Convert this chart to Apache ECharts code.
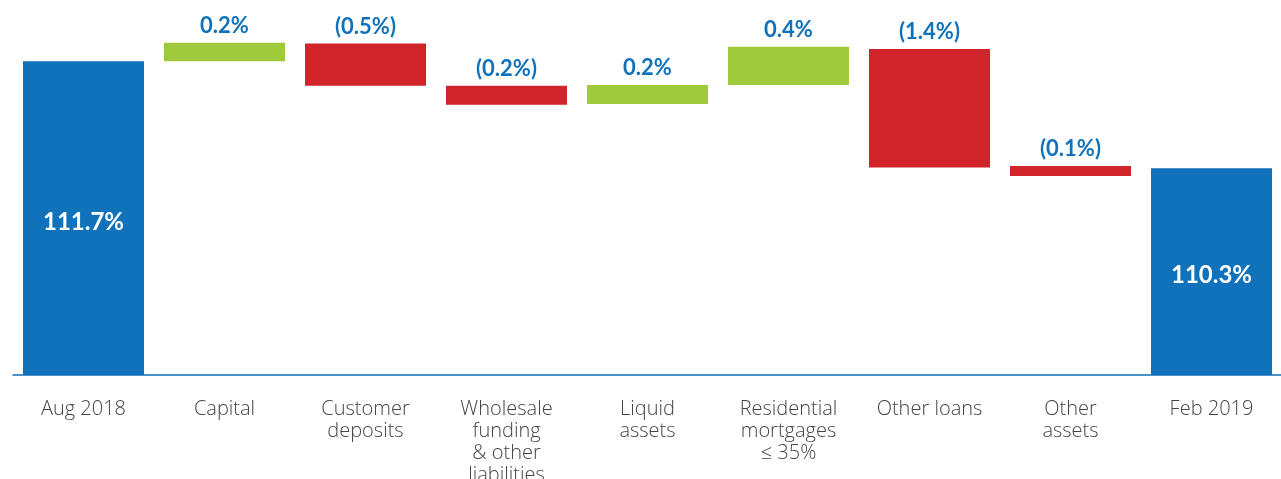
<!DOCTYPE html>
<html>
<head>
    <meta charset="UTF-8">
    <script src="https://cdn.jsdelivr.net/npm/echarts@6/dist/echarts.min.js"></script>
    <style>
        html, body { margin: 0; padding: 0; background: #fff; }
        #chart { width: 1281px; height: 479px; }
    </style>
</head>
<body>
    <div id="chart"></div>
    <script type="text/javascript">
        // categories along the bottom
        var categories = ['Aug 2018', 'Capital', 'Customer\ndeposits', 'Wholesale\nfunding\n& other\nliabilities',
            'Liquid\nassets', 'Residential\nmortgages\n≤ 35%', 'Other loans', 'Other\nassets', 'Feb 2019'];

        // opening / closing totals (%)
        var totals = [111.7, null, null, null, null, null, null, null, 110.3];

        // level where each movement starts and ends (%)
        var stepFrom = [null, 111.70, 111.93, 111.38, 111.14, 111.39, 111.86, 110.33, null];
        var stepTo   = [null, 111.94, 111.38, 111.13, 111.39, 111.89, 110.31, 110.20, null];

        // printed labels
        var valueLabels = ['111.7%', '0.2%', '(0.5%)', '(0.2%)', '0.2%', '0.4%', '(1.4%)', '(0.1%)', '110.3%'];

        var BLUE = '#1072ba', GREEN = '#9eca3b', RED = '#d0232a';

        var baseData = [], changeData = [], totalData = [];
        for (var i = 0; i < categories.length; i++) {
            if (totals[i] != null) {
                baseData.push('-');
                changeData.push('-');
                totalData.push(totals[i]);
            } else {
                var lo = Math.min(stepFrom[i], stepTo[i]);
                var up = stepTo[i] > stepFrom[i];
                baseData.push(lo);
                changeData.push({
                    value: Math.abs(stepTo[i] - stepFrom[i]),
                    itemStyle: { color: up ? GREEN : RED }
                });
                totalData.push('-');
            }
        }

        var myChart = echarts.init(document.getElementById('chart'));
        var option = {
            animation: false,
            grid: { left: 13, right: -1, top: 0, bottom: 104, outerBoundsMode: 'none', containLabel: false },
            xAxis: {
                type: 'category',
                data: categories,
                axisLine: { lineStyle: { color: BLUE, width: 1.5 } },
                axisTick: { show: false },
                axisLabel: {
                    interval: 0,
                    margin: 23,
                    color: '#444',
                    fontFamily: 'Open Sans',
                    fontWeight: 300,
                    fontSize: 20,
                    lineHeight: 22,
                    verticalAlign: 'top'
                }
            },
            yAxis: {
                type: 'value',
                min: 107.6,
                max: 112.5,
                show: false
            },
            series: [
                {
                    name: 'base',
                    type: 'bar',
                    stack: 'wf',
                    barWidth: 121,
                    itemStyle: { color: 'transparent' },
                    data: baseData
                },
                {
                    name: 'change',
                    type: 'bar',
                    stack: 'wf',
                    barWidth: 121,
                    data: changeData,
                    label: {
                        show: true,
                        position: 'top',
                        distance: 6,
                        color: BLUE,
                        fontFamily: 'Lato',
                        fontWeight: 'bold',
                        fontSize: 22,
                        formatter: function (p) { return valueLabels[p.dataIndex]; }
                    }
                },
                {
                    name: 'total',
                    type: 'bar',
                    stack: 'wf',
                    barWidth: 121,
                    itemStyle: { color: BLUE },
                    data: totalData,
                    label: {
                        show: true,
                        position: 'inside',
                        offset: [0, 4],
                        color: '#fff',
                        fontFamily: 'Lato',
                        fontWeight: 'bold',
                        fontSize: 24,
                        formatter: function (p) { return valueLabels[p.dataIndex]; }
                    }
                }
            ]
        };
        myChart.setOption(option);
    </script>
</body>
</html>
